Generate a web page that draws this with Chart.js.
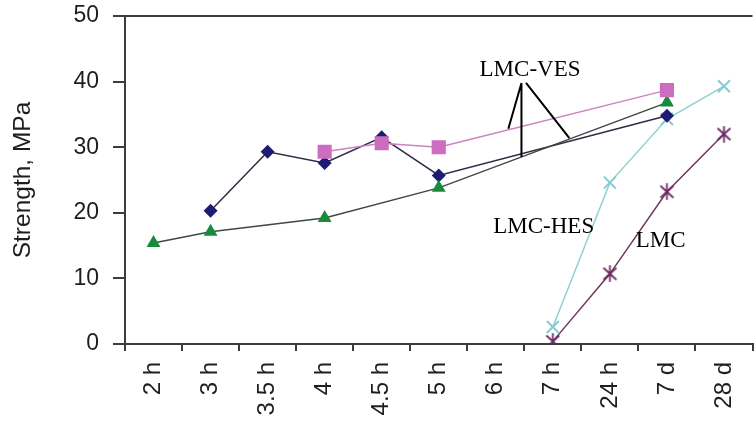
<!DOCTYPE html>
<html>
<head>
<meta charset="utf-8">
<script src="https://cdn.jsdelivr.net/npm/chart.js@4/dist/chart.umd.min.js"></script>
<style>
  html, body { margin: 0; padding: 0; background: #fff; overflow: hidden; }
  #wrap { position: relative; width: 763px; height: 421px; }
</style>
</head>
<body>
<div id="wrap"><canvas id="chart"></canvas></div>
<script>
// Curing ages on the category axis
const ages = ['2 h', '3 h', '3.5 h', '4 h', '4.5 h', '5 h', '6 h', '7 h', '24 h', '7 d', '28 d'];
const yTicks = [0, 10, 20, 30, 40, 50];

// Compressive strength (MPa); null = not tested at that age
const vesSquare   = [null, null, null, 29.3, 30.6, 30.0, null, null, null, 38.7, null];
const vesTriangle = [15.4, 17.1, null, 19.2, null, 23.8, null, null, null, 36.8, null];
const vesDiamond  = [null, 20.3, 29.3, 27.6, 31.5, 25.7, null, null, null, 34.8, null];
const hesCross    = [null, null, null, null, null, null, null, 2.6, 24.6, 34.3, 39.3];
const lmcStar     = [null, null, null, null, null, null, null, 0.4, 10.7, 23.2, 32.0];

// In-plot labels: [text, category position, strength position]
const seriesNotes = [
  ['LMC-VES', 6.6, 40.85],
  ['LMC-HES', 6.84, 16.9],
  ['LMC', 8.89, 14.8]
];
// Leader lines from the LMC-VES label: [x0, y0, x1, y1] in category / MPa units
const leaders = [
  [6.45, 39.8, 6.22, 32.8],
  [6.45, 39.8, 6.45, 28.5],
  [6.53, 39.8, 7.29, 31.4]
];

// Asterisk marker (X with a vertical stroke)
function starMarker(color) {
  const c = document.createElement('canvas');
  c.width = 17; c.height = 17;
  const g = c.getContext('2d');
  g.strokeStyle = color; g.lineWidth = 1.8; g.lineCap = 'round';
  g.beginPath();
  g.moveTo(2.5, 3); g.lineTo(14.5, 14);
  g.moveTo(14.5, 3); g.lineTo(2.5, 14);
  g.moveTo(8.5, 1); g.lineTo(8.5, 16);
  g.stroke();
  return c;
}

const axisColor = '#3c3c3c';
const textColor = '#1e1e1e';

const notesPlugin = {
  id: 'seriesNotes',
  afterDatasetsDraw(chart) {
    const { ctx, scales: { x, y } } = chart;
    ctx.save();
    ctx.strokeStyle = '#000';
    ctx.lineWidth = 2;
    ctx.beginPath();
    leaders.forEach(([a, b, c, d]) => {
      ctx.moveTo(x.getPixelForValue(a), y.getPixelForValue(b));
      ctx.lineTo(x.getPixelForValue(c), y.getPixelForValue(d));
    });
    ctx.stroke();
    ctx.fillStyle = '#000';
    ctx.font = '23px "Liberation Serif", "Times New Roman", serif';
    ctx.textAlign = 'center';
    ctx.textBaseline = 'alphabetic';
    seriesNotes.forEach(([t, cx, cy]) => {
      ctx.fillText(t, x.getPixelForValue(cx), y.getPixelForValue(cy));
    });
    ctx.restore();
  }
};

const sans = '"Liberation Sans", Arial, sans-serif';

new Chart(document.getElementById('chart'), {
  type: 'line',
  data: {
    labels: ages,
    datasets: [
      {
        label: 'LMC-VES (square)', data: vesSquare, spanGaps: true,
        borderColor: '#c983c0', borderWidth: 1.5,
        pointStyle: 'rect', pointRadius: 10, pointBackgroundColor: '#cc6dbf', pointBorderColor: '#cc6dbf', pointBorderWidth: 0
      },
      {
        label: 'LMC-VES (triangle)', data: vesTriangle, spanGaps: true,
        borderColor: '#3d4a40', borderWidth: 1.5,
        pointStyle: 'triangle', pointRadius: 8, pointBackgroundColor: '#178a3c', pointBorderColor: '#178a3c', pointBorderWidth: 0
      },
      {
        label: 'LMC-VES (diamond)', data: vesDiamond, spanGaps: true,
        borderColor: '#2c2c44', borderWidth: 1.5,
        pointStyle: 'rectRot', pointRadius: 7, pointBackgroundColor: '#1e1c72', pointBorderColor: '#1e1c72', pointBorderWidth: 0
      },
      {
        label: 'LMC-HES', data: hesCross, spanGaps: true,
        borderColor: '#8fd2d2', borderWidth: 1.5,
        pointStyle: 'crossRot', pointRadius: 8.5, pointBorderColor: '#86cbd3', pointBorderWidth: 2
      },
      {
        label: 'LMC', data: lmcStar, spanGaps: true,
        borderColor: '#6a3a5e', borderWidth: 1.5,
        pointStyle: starMarker('#6e2a62'), pointRadius: 8
      }
    ]
  },
  options: {
    responsive: true,
    maintainAspectRatio: false,
    animation: false,
    layout: { padding: { top: 16, right: 0, bottom: 0, left: 0 } },
    plugins: { legend: { display: false }, tooltip: { enabled: false } },
    elements: { line: { tension: 0 } },
    scales: {
      x: {
        offset: true,
        grid: { offset: true, drawOnChartArea: false, tickColor: axisColor, tickLength: 7, lineWidth: 2 },
        border: { color: axisColor, width: 2 },
        ticks: { autoSkip: false, minRotation: 90, maxRotation: 90, padding: 11, color: textColor, font: { family: sans, size: 24 } },
        afterFit: s => { s.height = 77; s.paddingLeft = 0; s.paddingRight = 0; }
      },
      y: {
        min: 0, max: 50,
        afterBuildTicks: s => { s.ticks = yTicks.map(v => ({ value: v })); },
        grid: {
          color: c => (c.tick && c.tick.value === 50 ? axisColor : 'rgba(0,0,0,0)'),
          tickColor: axisColor, tickLength: 12, lineWidth: 2
        },
        border: { color: axisColor, width: 2 },
        ticks: { padding: 14, color: textColor, font: { family: sans, size: 23 } },
        title: { display: true, text: 'Strength, MPa', color: textColor, font: { family: sans, size: 24.5 }, padding: { top: 9, bottom: 0 } },
        afterFit: s => { s.width = 125; s.paddingTop = 0; s.paddingBottom = 0; }
      }
    }
  },
  plugins: [notesPlugin]
});
</script>
</body>
</html>
